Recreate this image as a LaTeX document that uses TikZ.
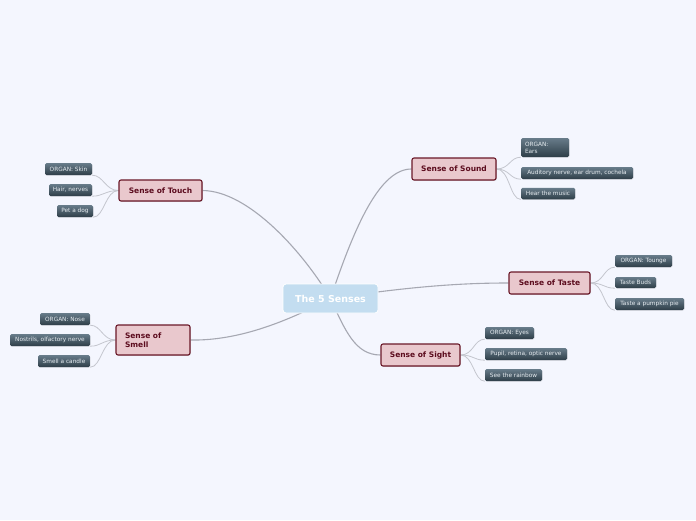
\documentclass[tikz,border=0pt]{standalone}
\usepackage{fontspec}
\setmainfont{DejaVu Sans}
\usetikzlibrary{shadows}
\definecolor{bgc}{HTML}{F4F6FE}
\definecolor{linec}{HTML}{A6A8B2}
\definecolor{twigc}{HTML}{C4C6CE}
\definecolor{mainfill}{HTML}{E9C8CD}
\definecolor{mainborder}{HTML}{6A1828}
\definecolor{maintext}{HTML}{5C0C1E}
\definecolor{centfill}{HTML}{C3DDF0}
\definecolor{leaftop}{HTML}{687C8A}
\definecolor{leafbot}{HTML}{2E3E48}
\definecolor{leaftext}{HTML}{E6ECF0}
\pgfdeclarelayer{bg}\pgfdeclarelayer{lines}\pgfsetlayers{bg,lines,main}
\tikzset{
 central/.style={draw=white, line width=0.8pt, fill=centfill, rounded corners=3pt, text=white,
   font=\fontsize{9.5}{11}\selectfont\bfseries, inner sep=0pt},
 sense/.style={draw=mainborder, line width=1.1pt, fill=mainfill, rounded corners=2pt, text=maintext,
   font=\fontsize{7.5}{9}\selectfont\bfseries, inner sep=0pt,
   drop shadow={shadow xshift=0.8pt, shadow yshift=-0.8pt, opacity=0.25}},
 leaf/.style={top color=leaftop, bottom color=leafbot, rounded corners=1.5pt, text=leaftext,
   font=\fontsize{5.8}{7}\selectfont, inner sep=0pt,
   drop shadow={shadow xshift=0.6pt, shadow yshift=-0.6pt, opacity=0.2}},
 conn/.style={draw=linec, line width=1.1pt},
 twig/.style={draw=twigc, line width=0.8pt}
}
\begin{document}
\begin{tikzpicture}[x=1pt,y=-1pt]
\useasboundingbox (0,0) rectangle (696,520);
\begin{pgfonlayer}{bg}
\fill[bgc] (0,0) rectangle (696,520);
\end{pgfonlayer}

% central
\node[central, minimum width=95pt, minimum height=29pt] (c) at (330.5,298.5) {The 5 Senses};

% main branches
\node[sense, minimum width=84pt, minimum height=22pt] (sound) at (454,169) {Sense of Sound};
\node[sense, minimum width=81pt, minimum height=22pt] (taste) at (549.5,283) {Sense of Taste};
\node[sense, minimum width=79pt, minimum height=22pt] (sight) at (420.5,355) {Sense of Sight};
\node[sense, minimum width=83pt, minimum height=21pt] (touch) at (160.5,190.5) {Sense of Touch};
\node[sense, minimum width=74pt, minimum height=30pt, text width=56pt, align=left] (smell) at (153,340) {Sense of\\Smell};

% leaves: sound
\node[leaf, minimum width=48pt, minimum height=19pt, text width=40pt, align=left] (s1) at (545,147.5) {ORGAN:\\Ears};
\node[leaf, minimum width=112pt, minimum height=12pt] (s2) at (577,173) {Auditory nerve, ear drum, cochela};
\node[leaf, minimum width=54pt, minimum height=11.5pt] (s3) at (548,193.5) {Hear the music};
% taste
\node[leaf, minimum width=57pt, minimum height=12pt] (t1) at (643.5,261) {ORGAN: Tounge};
\node[leaf, minimum width=41pt, minimum height=11pt] (t2) at (635.5,282.5) {Taste Buds};
\node[leaf, minimum width=69pt, minimum height=12pt] (t3) at (649.5,304) {Taste a pumpkin pie};
% sight
\node[leaf, minimum width=49pt, minimum height=12pt] (g1) at (509.5,333) {ORGAN: Eyes};
\node[leaf, minimum width=82pt, minimum height=12pt] (g2) at (526,354) {Pupil, retina, optic nerve};
\node[leaf, minimum width=57pt, minimum height=12pt] (g3) at (513.5,375) {See the rainbow};
% touch
\node[leaf, minimum width=47pt, minimum height=12pt] (h1) at (68.5,169) {ORGAN: Skin};
\node[leaf, minimum width=43pt, minimum height=12pt] (h2) at (70.5,190) {Hair, nerves};
\node[leaf, minimum width=36pt, minimum height=12pt] (h3) at (75,211) {Pet a dog};
% smell
\node[leaf, minimum width=50pt, minimum height=12pt] (m1) at (65,319) {ORGAN: Nose};
\node[leaf, minimum width=80pt, minimum height=12pt] (m2) at (50,340) {Nostrils, olfactory nerve};
\node[leaf, minimum width=52pt, minimum height=12pt] (m3) at (64,361) {Smell a candle};

\begin{pgfonlayer}{lines}
\draw[conn] (c.center) .. controls (355,225) and (380,169) .. (sound.west);
\draw[conn] (c.center) .. controls (305,255) and (250,191) .. (touch.east);
\draw[conn] (c.center) .. controls (420,285) and (470,283) .. (taste.west);
\draw[conn] (c.center) .. controls (345,330) and (355,355) .. (sight.west);
\draw[conn] (c.center) .. controls (290,320) and (240,341) .. (smell.east);

\foreach \p/\l in {sound/s1,sound/s2,sound/s3,taste/t1,taste/t2,taste/t3,sight/g1,sight/g2,sight/g3}
  \draw[twig] (\p.east) .. controls +(13,0) and +(-11,0) .. (\l.south west);
\foreach \p/\l in {touch/h1,touch/h2,touch/h3,smell/m1,smell/m2,smell/m3}
  \draw[twig] (\p.west) .. controls +(-13,0) and +(11,0) .. (\l.south east);
\end{pgfonlayer}
\end{tikzpicture}
\end{document}
